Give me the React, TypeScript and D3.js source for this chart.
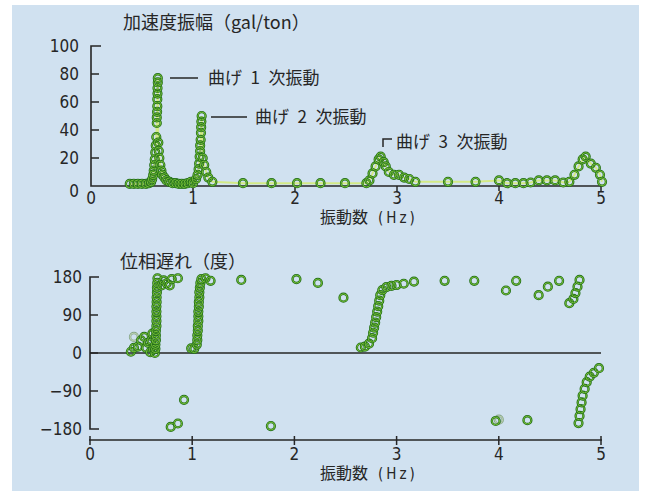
import React from 'react';
import * as d3 from 'd3';

// 加速度振幅 [振動数 Hz, gal/ton]
const ampPoints: [number, number][] = [
  [0.38, 1.5], [0.42, 1.5], [0.46, 1.5], [0.5, 1.5], [0.54, 1.5], [0.57, 2],
  [0.59, 3], [0.6, 5], [0.61, 8], [0.615, 11], [0.62, 15], [0.625, 19], [0.63, 24], [0.635, 29], [0.64, 35],
  [0.645, 45], [0.645, 49], [0.648, 53], [0.65, 57], [0.65, 62], [0.652, 66], [0.652, 70], [0.655, 74], [0.655, 77],
  [0.66, 31], [0.665, 25], [0.67, 20], [0.68, 15], [0.69, 11], [0.7, 8], [0.72, 6], [0.74, 4], [0.77, 3],
  [0.8, 2], [0.83, 2], [0.86, 1.5], [0.89, 1.5], [0.92, 1.5], [0.95, 2], [0.98, 3],
  [1.0, 2], [1.03, 5], [1.045, 8], [1.055, 12], [1.06, 16], [1.065, 21], [1.07, 25], [1.07, 29], [1.075, 33],
  [1.078, 38], [1.08, 42], [1.082, 46], [1.085, 50],
  [1.095, 20], [1.11, 15], [1.13, 10], [1.15, 6], [1.19, 3],
  [1.49, 2], [1.77, 2], [2.02, 2], [2.25, 2], [2.49, 2],
  [2.7, 2], [2.73, 4], [2.76, 9], [2.79, 14], [2.82, 19], [2.84, 21], [2.87, 17], [2.89, 14], [2.92, 10],
  [2.97, 8], [3.02, 8], [3.07, 6], [3.12, 5], [3.18, 3],
  [3.5, 3], [3.77, 3], [4.0, 4], [4.08, 2], [4.16, 2], [4.24, 2], [4.31, 2.5], [4.39, 4], [4.47, 4], [4.55, 4], [4.63, 2.5],
  [4.69, 3], [4.74, 8], [4.78, 14], [4.82, 19], [4.85, 21], [4.9, 16], [4.95, 13], [4.99, 8], [5.01, 3],
];

// 位相遅れ [振動数 Hz, 度]
const phasePoints: [number, number][] = [
  [0.4, 3], [0.43, 12], [0.47, 15], [0.5, 30], [0.53, 38], [0.55, 12], [0.57, 24], [0.59, 2], [0.6, 30], [0.61, 46], [0.62, 8],
  [0.635, 0], [0.64, 10], [0.64, 20], [0.645, 31], [0.645, 42], [0.645, 53], [0.65, 64], [0.65, 76], [0.65, 87],
  [0.65, 98], [0.65, 110], [0.652, 121], [0.652, 132], [0.655, 144], [0.655, 155], [0.658, 166], [0.66, 177],
  [0.7, 160], [0.72, 172], [0.75, 165], [0.78, 160], [0.8, 175], [0.86, 177],
  [0.79, -175], [0.86, -167], [0.92, -111],
  [0.99, 11], [1.02, 10], [1.045, 20], [1.05, 31], [1.05, 42], [1.055, 53], [1.055, 64], [1.06, 76], [1.06, 87],
  [1.06, 98], [1.065, 110], [1.065, 121], [1.07, 132], [1.07, 144], [1.075, 155], [1.08, 166], [1.09, 175],
  [1.13, 177], [1.18, 171],
  [1.48, 173], [1.77, -173], [2.02, 175], [2.23, 166], [2.48, 131],
  [2.65, 13], [2.69, 15], [2.73, 22], [2.76, 35], [2.77, 48], [2.78, 60], [2.79, 72], [2.8, 85], [2.81, 98],
  [2.82, 111], [2.83, 124], [2.84, 137], [2.86, 149], [2.9, 156], [2.95, 159], [3.0, 161], [3.07, 164], [3.17, 169],
  [3.47, 171], [3.76, 171], [3.97, -161], [4.07, 148], [4.17, 171], [4.28, -159], [4.39, 137], [4.48, 157], [4.59, 171],
  [4.69, 118], [4.73, 128], [4.75, 142], [4.77, 157], [4.79, 173],
  [4.78, -166], [4.79, -149], [4.8, -133], [4.81, -117], [4.82, -101], [4.84, -85], [4.86, -69], [4.89, -56], [4.93, -47], [4.98, -36],
];
const phaseFaint: [number, number][] = [[0.43, 38], [4.0, -158]];

const freqTicks = [0, 1, 2, 3, 4, 5];
const ampTicks = [0, 20, 40, 60, 80, 100];
const phaseTicks = [-180, -90, 0, 90, 180];
const ampTitle = '加速度振幅（gal/ton）';
const phaseTitle = '位相遅れ（度）';
const freqLabel = '振動数';
const unitLabel = '(Hz)';
const modeLabels = ['曲げ\u20021\u2002次振動', '曲げ\u20022\u2002次振動', '曲げ\u20023\u2002次振動'];

const W = 646;
const H = 491;
const JP = '"Noto Sans CJK JP", "Noto Sans", sans-serif';
const NUM = '"DejaVu Sans Condensed", "DejaVu Sans", sans-serif';
const INK = '#262626';

const Marker = ({ x, y, faint }: { x: number; y: number; faint?: boolean }) => (
  <g>
    <circle cx={x} cy={y} r={3.9} fill="none" stroke={faint ? '#86a68a' : '#23701a'} strokeWidth={2.4} />
    <circle cx={x} cy={y} r={3.9} fill="none" stroke={faint ? '#c4d8b8' : '#7fc63a'} strokeWidth={0.9} />
  </g>
);

const App = () => {
  const xTop = d3.scaleLinear().domain([0, 5]).range([91, 601]);
  const yAmp = d3.scaleLinear().domain([0, 100]).range([186, 46]);
  const xBot = d3.scaleLinear().domain([0, 5]).range([90, 601]);
  const yPh = d3.scaleLinear().domain([-180, 180]).range([429, 277]);

  const sorted = [...ampPoints].sort((a, b) => a[0] - b[0]);
  const fitLine = d3
    .line<[number, number]>()
    .x(d => xTop(d[0]))
    .y(d => yAmp(d[1]))(sorted);

  return (
    <svg width={W} height={H} style={{ position: 'absolute', left: 0, top: 0 }}>
      <rect x={0} y={0} width={W} height={H} fill="#ffffff" />
      <rect x={12} y={5} width={627} height={H - 5} fill="#d0e1f0" />

      {/* 上段: 加速度振幅 */}
      <text x={123} y={29} fontFamily={JP} fontSize={18} fill={INK}>{ampTitle}</text>
      <path
        d={`M${xTop(0) + 10},${yAmp(100)}H${xTop(0)}V${yAmp(0)}H${xTop(5)}`}
        fill="none" stroke={INK} strokeWidth={1.6}
      />
      {ampTicks.slice(1, -1).map(t => (
        <line key={t} x1={xTop(0)} x2={xTop(0) + 8} y1={yAmp(t)} y2={yAmp(t)} stroke={INK} strokeWidth={1.5} />
      ))}
      {ampTicks.map(t => (
        <text key={t} x={79} y={yAmp(t) + 6 + (t === 0 ? 5 : 0)} textAnchor="end" fontFamily={NUM} fontSize={17} fill={INK}>{t}</text>
      ))}
      {freqTicks.slice(1).map(t => (
        <line key={t} x1={xTop(t)} x2={xTop(t)} y1={yAmp(0)} y2={yAmp(0) + 5} stroke={INK} strokeWidth={1.5} />
      ))}
      {freqTicks.map(t => (
        <text key={t} x={xTop(t)} y={204} textAnchor="middle" fontFamily={NUM} fontSize={17} fill={INK}>{t}</text>
      ))}
      <text x={320} y={223} fontFamily={JP} fontSize={16} fill={INK}>{freqLabel}</text>
      <text x={378} y={223} fontFamily={NUM} fontSize={15} letterSpacing={3} fill={INK}>{unitLabel}</text>

      <path d={fitLine ?? ''} fill="none" stroke="#d3ea86" strokeWidth={2} />
      {ampPoints.map((d, i) => (
        <Marker key={i} x={xTop(d[0])} y={yAmp(d[1])} />
      ))}

      {/* モード注記 */}
      <line x1={170} x2={198} y1={78} y2={78} stroke={INK} strokeWidth={1.5} />
      <text x={208} y={84} fontFamily={JP} fontSize={17} fill={INK}>{modeLabels[0]}</text>
      <line x1={211} x2={247} y1={117} y2={117} stroke={INK} strokeWidth={1.5} />
      <text x={255} y={123} fontFamily={JP} fontSize={17} fill={INK}>{modeLabels[1]}</text>
      <path d="M383,147V139H392" fill="none" stroke={INK} strokeWidth={1.5} />
      <text x={396} y={148} fontFamily={JP} fontSize={17} fill={INK}>{modeLabels[2]}</text>

      {/* 下段: 位相遅れ */}
      <text x={120} y={268} fontFamily={JP} fontSize={18} fill={INK}>{phaseTitle}</text>
      <path
        d={`M${xBot(0) + 9},${yPh(180)}H${xBot(0)}V${yPh(-180)}H${xBot(0) + 9}`}
        fill="none" stroke={INK} strokeWidth={1.6}
      />
      {phaseTicks.slice(1, -1).map(t => (
        <line key={t} x1={xBot(0)} x2={xBot(0) + 8} y1={yPh(t)} y2={yPh(t)} stroke={INK} strokeWidth={1.5} />
      ))}
      {phaseTicks.map(t => (
        <text key={t} x={82} y={yPh(t) + 6} textAnchor="end" fontFamily={NUM} fontSize={17} fill={INK}>
          {t < 0 ? `−${-t}` : t}
        </text>
      ))}
      <line x1={xBot(0)} x2={xBot(5)} y1={yPh(0)} y2={yPh(0)} stroke={INK} strokeWidth={1.6} />
      <line x1={xBot(0) - 1} x2={xBot(5) + 1} y1={440} y2={440} stroke={INK} strokeWidth={1.6} />
      {freqTicks.map(t => (
        <line key={t} x1={xBot(t)} x2={xBot(t)} y1={436} y2={445} stroke={INK} strokeWidth={1.5} />
      ))}
      {freqTicks.map(t => (
        <text key={t} x={xBot(t)} y={460} textAnchor="middle" fontFamily={NUM} fontSize={17} fill={INK}>{t}</text>
      ))}
      <text x={320} y={479} fontFamily={JP} fontSize={16} fill={INK}>{freqLabel}</text>
      <text x={378} y={479} fontFamily={NUM} fontSize={15} letterSpacing={3} fill={INK}>{unitLabel}</text>

      {phaseFaint.map((d, i) => (
        <Marker key={'f' + i} x={xBot(d[0])} y={yPh(d[1])} faint />
      ))}
      {phasePoints.map((d, i) => (
        <Marker key={i} x={xBot(d[0])} y={yPh(d[1])} />
      ))}
    </svg>
  );
};

export default App;
